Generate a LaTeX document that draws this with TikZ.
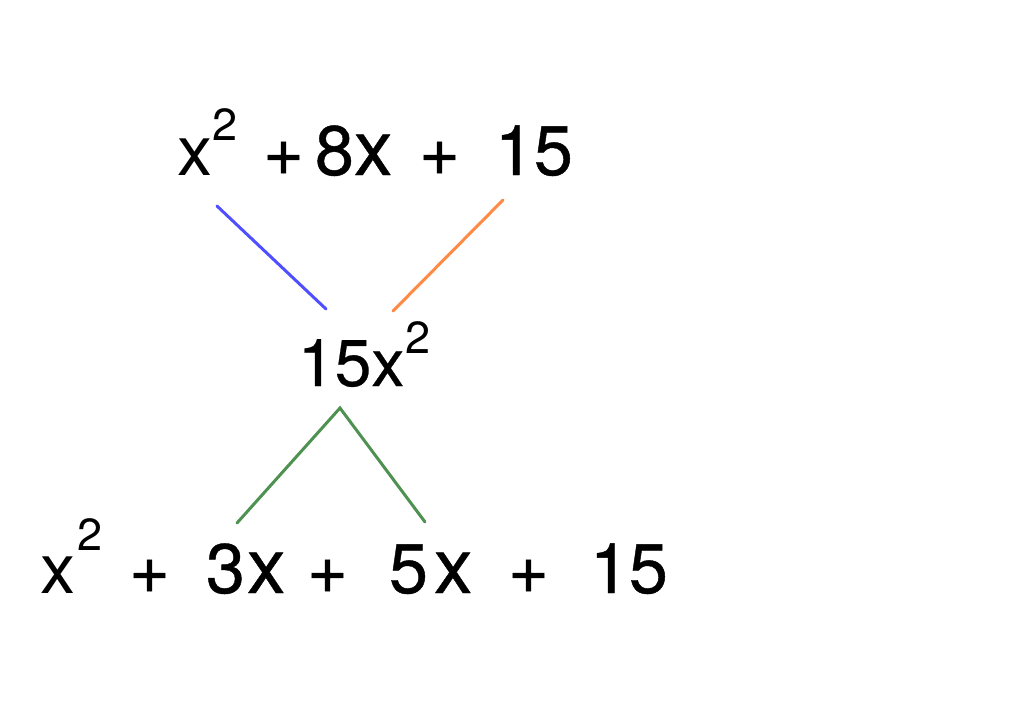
\documentclass[tikz,border=0pt]{standalone}
\usepackage{fontspec}
\setmainfont{TeX Gyre Heros}
\tikzset{
  tok/.style={anchor=base west, inner sep=0pt, outer sep=0pt, font=\fontsize{70}{80}\selectfont\addfontfeature{FakeBold=0.6}},
  lite/.style={anchor=base west, inner sep=0pt, outer sep=0pt, font=\fontsize{70}{80}\selectfont},
  bigx/.style={anchor=base west, inner sep=0pt, outer sep=0pt, font=\fontsize{77}{80}\selectfont\addfontfeature{FakeBold=0.6}},
  midtok/.style={anchor=base west, inner sep=0pt, outer sep=0pt, font=\fontsize{66}{75}\selectfont\addfontfeature{FakeBold=0.4}},
  sup/.style={anchor=base west, inner sep=0pt, outer sep=0pt, font=\fontsize{45}{50}\selectfont},
  link/.style={line width=3pt, line cap=round},
}
\definecolor{lblue}{HTML}{4F4FFF}
\definecolor{lorange}{HTML}{FF8A45}
\definecolor{lgreen}{HTML}{4E9150}
\begin{document}
\begin{tikzpicture}[x=1pt,y=-1pt]
\useasboundingbox (0,0) rectangle (1024,715);
% top line
\node[lite] (t1) at (177,175) {x};
\node[sup] (t2) at (212,140) {2};
\node[tok] (t3) at (263,175) {+};
\node[tok] (t4) at (315,175) {8};
\node[bigx] (t4x) at (354,175) {x};
\node[tok] (t5) at (419,175) {+};
\node[tok] (t6) at (495,175) {15};
% middle
\node[midtok] (m1) at (298,386) {15x};
\node[sup] (m2) at (405,353) {2};
% bottom line
\node[lite] (b1) at (40,593) {x};
\node[sup] (b2) at (77,550) {2};
\node[tok] (b3) at (129,593) {+};
\node[tok] (b4) at (206,593) {3};
\node[bigx] (b4x) at (247,593) {x};
\node[tok] (b5) at (307,593) {+};
\node[tok] (b6) at (389,593) {5};
\node[bigx] (b7) at (434,593) {x};
\node[tok] (b8) at (508,593) {+};
\node[tok] (b9) at (590,593) {15};
% connector ends
\coordinate (bA) at (217,206);
\coordinate (bB) at (326,309);
\coordinate (oA) at (503,200);
\coordinate (oB) at (393,311);
\coordinate (gA) at (340,408);
\coordinate (gL) at (237,523);
\coordinate (gR) at (425,522);
\draw[link, lblue] (bA) -- (bB);
\draw[link, lorange] (oA) -- (oB);
\draw[link, lgreen] (gL) -- (gA) -- (gR);
\end{tikzpicture}
\end{document}
